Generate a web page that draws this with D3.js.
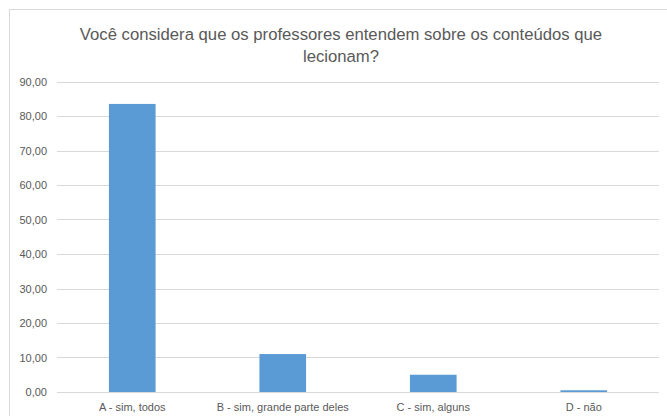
<!DOCTYPE html>
<html><head><meta charset="utf-8">
<script src="https://cdn.jsdelivr.net/npm/d3@7"></script>
<style>
html,body{margin:0;padding:0;background:#fff;}
svg{display:block;}
</style></head>
<body>
<svg id="chart" width="667" height="416"></svg>
<script>
const categories = ["A - sim, todos", "B - sim, grande parte deles", "C - sim, alguns", "D - não"];
const values = [83.5, 11.0, 5.0, 0.5];
const yTicks = [0, 10, 20, 30, 40, 50, 60, 70, 80, 90];
const titleLines = ["Você considera que os professores entendem sobre os conteúdos que", "lecionam?"];

const svg = d3.select("#chart");
const font = "'Liberation Sans', Arial, sans-serif";
const textColor = "#595959";

// chart frame
svg.append("rect").attr("x", 9.5).attr("y", 9.5).attr("width", 700).attr("height", 450)
  .attr("fill", "#fff").attr("stroke", "#d9d9d9").attr("stroke-width", 1);

const plot = {left: 57, right: 659, top: 81.5, bottom: 392};
const x = d3.scaleBand().domain(categories).range([plot.left, plot.right]).paddingInner(0.69).paddingOuter(0.345);
const y = d3.scaleLinear().domain([0, 90]).range([plot.bottom, plot.top]);

// gridlines
svg.append("g").selectAll("line").data(yTicks).join("line")
  .attr("x1", plot.left).attr("x2", plot.right)
  .attr("y1", d => Math.round(y(d)) + 0.5).attr("y2", d => Math.round(y(d)) + 0.5)
  .attr("stroke", "#d9d9d9").attr("stroke-width", 1);

// y axis labels
const yAxis = d3.axisLeft(y).tickValues(yTicks).tickSize(0).tickPadding(0)
  .tickFormat(d => d3.format(".2f")(d).replace(".", ","));
const yg = svg.append("g").attr("transform", `translate(${plot.left - 10},0)`).call(yAxis);
yg.select(".domain").remove();
yg.selectAll("text").attr("fill", textColor).style("font-family", font).style("font-size", "11px");

// bars
svg.append("g").selectAll("rect").data(values).join("rect")
  .attr("x", (d, i) => x(categories[i]))
  .attr("width", x.bandwidth())
  .attr("y", d => y(d))
  .attr("height", d => y(0) - y(d))
  .attr("fill", "#5b9bd5");

// x axis labels
const xAxis = d3.axisBottom(x).tickSize(0).tickPadding(0);
const xg = svg.append("g").attr("transform", `translate(0,${plot.bottom + 11})`).call(xAxis);
xg.select(".domain").remove();
xg.selectAll("text").attr("fill", textColor).style("font-family", font).style("font-size", "11px");

// title
const title = svg.append("text").attr("text-anchor", "middle").attr("fill", textColor)
  .style("font-family", font).style("font-size", "16px");
title.selectAll("tspan").data(titleLines).join("tspan")
  .attr("x", 341).attr("y", (d, i) => 40 + i * 22).text(d => d);
// fit width of first line to ~523px
const w = title.select("tspan").node().getComputedTextLength();
title.style("font-size", (16 * 523 / w).toFixed(2) + "px");
</script>
</body></html>
